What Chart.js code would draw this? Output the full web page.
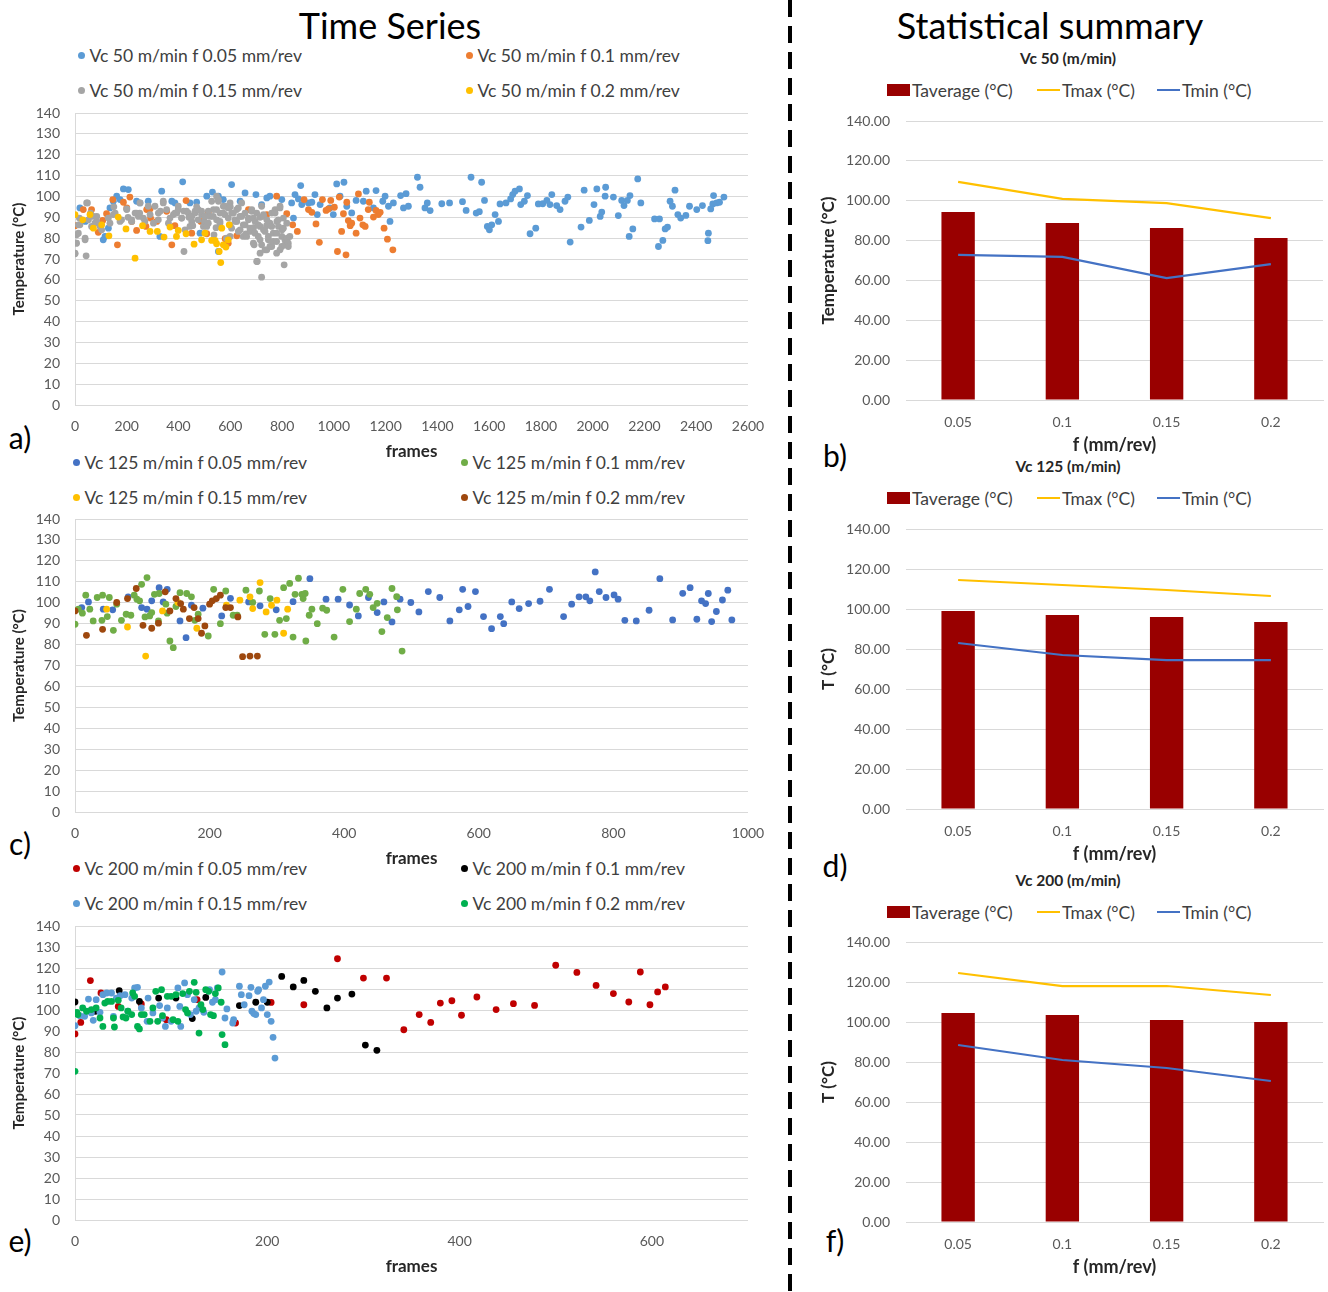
<!DOCTYPE html>
<html>
<head>
<meta charset="utf-8">
<script src="https://cdn.jsdelivr.net/npm/chart.js@4.4.1/dist/chart.umd.min.js"></script>
<style>
  body { margin: 0; background: #fff; font-family: Lato, 'Liberation Sans', sans-serif; }
  #page { position: relative; width: 1328px; height: 1292px; overflow: hidden; background: #fff; }
  canvas { position: absolute; }
  .c { position: absolute; transform: translate(-50%, -50%); white-space: nowrap; }
  .big { font-size: 36px; color: #000; }
  .tag { font-size: 30px; color: #000; }
  .ctitle { font-size: 15.5px; font-weight: bold; color: #262626; }
  .leg { position: absolute; height: 20px; display: flex; align-items: center; font-size: 17.5px; color: #404040; white-space: nowrap; }
  .dot { width: 7px; height: 7px; border-radius: 50%; margin-right: 5px; }
  .box { width: 23px; height: 12px; margin-right: 2px; }
  .ln { width: 23px; height: 2.5px; margin-right: 2px; }
  #dash { position: absolute; left: 788px; top: 0; width: 4px; height: 1292px;
          background: repeating-linear-gradient(to bottom, #000 0 17px, transparent 17px 26px); }
</style>
</head>
<body>
<div id="page">
  <div class="c big" style="left:390px;top:25px">Time Series</div>
  <div class="c big" style="left:1050px;top:25px">Statistical summary</div>
  <div id="dash"></div>

  <div class="c tag" style="left:20px;top:437px">a)</div>
  <div class="c tag" style="left:835px;top:455px">b)</div>
  <div class="c tag" style="left:20px;top:843px">c)</div>
  <div class="c tag" style="left:835px;top:865px">d)</div>
  <div class="c tag" style="left:20px;top:1240px">e)</div>
  <div class="c tag" style="left:835px;top:1240px">f)</div>

  <div id="legA"></div><div id="legC"></div><div id="legE"></div>
  <div id="legB"></div><div id="legD"></div><div id="legF"></div>

  <div class="c ctitle" style="left:1068px;top:58px">Vc 50 (m/min)</div>
  <div class="c ctitle" style="left:1068px;top:466px">Vc 125 (m/min)</div>
  <div class="c ctitle" style="left:1068px;top:880px">Vc 200 (m/min)</div>

  <canvas id="chA" width="770" height="360" style="left:0;top:105px"></canvas>
  <canvas id="chC" width="770" height="361" style="left:0;top:511px"></canvas>
  <canvas id="chE" width="770" height="362" style="left:0;top:918px"></canvas>
  <canvas id="chB" width="518" height="343" style="left:810px;top:113px"></canvas>
  <canvas id="chD" width="518" height="344" style="left:810px;top:521px"></canvas>
  <canvas id="chF" width="518" height="344" style="left:810px;top:934px"></canvas>
</div>

<script>
// ---- time series data: [frame, temperature °C] ----
const vc50_f005 = [[19,94.5],[40,88],[60,91],[109,79.2],[116,80.8],[129,84.8],[135,94.5],[148,97.7],[161,100.1],[174,98.5],[187,103.6],[206,103.3],[238,97.7],[251,96.9],[283,97.7],[328,80.8],[335,102.5],[374,97.7],[386,96.9],[416,107],[444,96.9],[470,97.2],[483,82.4],[509,100.1],[531,102.1],[554,100.1],[554,73.6],[573,98.5],[605,105.7],[638,97.7],[657,101.7],[699,100.9],[721,96.1],[741,99.3],[753,100.1],[799,98.5],[837,96.9],[844,89.6],[850,100.9],[863,98.8],[872,105.2],[876,96.1],[902,96.9],[915,97.2],[927,100.9],[936,91.3],[947,96.1],[985,94.5],[998,91.3],[1011,106],[1024,100.1],[1039,106.8],[1050,95.3],[1069,92.1],[1086,98.1],[1114,97.7],[1125,102.5],[1153,94.5],[1163,102.8],[1189,97.7],[1198,100.1],[1211,95.3],[1217,88],[1230,96.9],[1258,100.4],[1269,94.5],[1279,101.3],[1288,95.3],[1323,109.2],[1333,104.4],[1352,94.5],[1361,96.9],[1372,93.2],[1417,96.5],[1447,96.9],[1497,97.5],[1511,93.3],[1530,109.2],[1550,92],[1562,92.7],[1571,106.8],[1582,98.1],[1593,85.6],[1601,84],[1610,86.4],[1623,91.3],[1636,88],[1642,96.4],[1665,96.9],[1683,98.8],[1691,100.9],[1700,102.5],[1717,103.6],[1722,96.1],[1736,97.7],[1748,100.4],[1758,82.1],[1780,84.8],[1790,96.4],[1807,96.5],[1823,98.1],[1835,96.1],[1842,100.9],[1861,95.6],[1874,93.7],[1893,97.7],[1904,99.7],[1913,78.1],[1955,85.3],[1967,103],[1987,88.5],[2005,96.1],[2016,103.6],[2029,90.4],[2035,92.5],[2048,100.1],[2050,104.4],[2080,99.7],[2099,90.8],[2112,98.1],[2121,95.6],[2134,98.1],[2144,100.4],[2141,80.8],[2155,84.4],[2174,108.4],[2186,96.9],[2239,89.2],[2258,89.2],[2254,76],[2271,78.9],[2280,84.4],[2289,85.3],[2299,97.7],[2308,95.3],[2318,103],[2329,91.3],[2340,89.6],[2360,90.9],[2374,95.3],[2402,93.7],[2424,95.6],[2445,78.8],[2447,82.4],[2456,94],[2464,96.4],[2467,100.4],[2479,96.9],[2490,97.2],[2507,99.7]];
const vc50_f01 = [[0,86],[32,93.7],[64,93.7],[90,82.8],[107,88.5],[122,91.7],[146,98.5],[164,76.8],[187,97.2],[200,94.5],[212,99.7],[219,88],[238,83.7],[274,85.6],[277,93.7],[290,94],[292,89.6],[316,88],[354,92.9],[374,76.8],[386,86],[429,98],[451,82.4],[486,88],[509,82.1],[515,92.4],[580,79.7],[592,77.6],[625,81.1],[670,93.7],[741,91.3],[779,100.1],[818,91.7],[841,86.4],[859,83.2],[885,98.5],[902,93.7],[915,92.4],[931,86.8],[944,78],[956,98.5],[970,93.3],[979,94],[988,98.1],[1002,94.8],[1014,73.6],[1021,99.7],[1030,83.2],[1037,91.7],[1047,72],[1050,97.2],[1056,88.4],[1063,86],[1069,87.2],[1086,82.4],[1095,101.2],[1101,89.6],[1112,86.4],[1121,85.6],[1133,93.7],[1137,97.2],[1153,90.1],[1163,93.3],[1172,91.3],[1179,92.4],[1194,84.8],[1207,79.5],[1228,74.4]];
const vc50_f015 = [[0,72.5],[0,72.8],[4,77.6],[6,81.6],[6,77.6],[13,86.4],[13,82.4],[17,89.6],[19,86.4],[39,79.2],[39,80],[43,71.5],[45,96.9],[48,96.9],[52,88.8],[60,92],[64,85.6],[71,90.4],[77,87.2],[84,88],[84,90.4],[97,85.6],[103,84],[129,89.6],[135,87.2],[148,91.3],[150,95],[155,92],[174,88],[180,88.8],[200,94],[200,93.7],[205,90],[219,88.8],[219,88],[232,92],[238,92],[245,90.4],[250,92],[251,96.9],[264,89.6],[270,88],[283,95.3],[290,91.3],[303,87.2],[309,95.3],[322,88.8],[322,92],[330,93],[341,97.7],[341,96.9],[354,93.7],[361,87.2],[367,89.6],[380,91.3],[386,92],[393,92],[399,95.3],[399,93.7],[412,89.6],[412,89.6],[420,93],[421,73.6],[425,84],[431,92.9],[438,92],[440,90],[444,85.6],[451,88],[451,90.4],[455,86],[464,92],[464,92.9],[470,95],[476,93.7],[476,88.8],[489,91.3],[489,92.9],[496,85.6],[500,88],[502,90.4],[509,85.6],[515,93],[515,87.2],[522,90.4],[528,97.7],[534,90.4],[535,93.7],[537,81.6],[545,85],[547,88.8],[547,93.7],[547,100.1],[554,97.7],[554,98.5],[560,87.2],[560,92],[560,88],[573,92],[573,95.3],[579,91.3],[580,95.3],[585,80],[592,89.6],[592,94.5],[599,96.9],[599,86.4],[599,80.8],[600,95],[605,84.8],[605,92],[612,92],[618,88.8],[620,88],[625,88],[625,93.7],[631,94.5],[631,83.2],[637,90.4],[638,84],[644,90.4],[644,96.9],[650,80.8],[650,86.4],[657,86.4],[657,92],[660,82],[663,80.8],[670,89.6],[670,88.8],[676,83.2],[676,84.8],[683,92.9],[683,93.7],[689,77.6],[689,89.6],[690,85],[692,76.8],[695,82.4],[696,88],[702,68.8],[702,92],[704,68.8],[708,80.8],[708,86.4],[715,85.6],[715,90],[715,79.2],[715,72.8],[721,76.8],[721,61.3],[721,95.3],[728,91.3],[728,90.4],[728,84],[734,83.2],[734,74.4],[740,86],[741,74.4],[741,88.8],[747,79.2],[747,80.8],[753,87.2],[753,76],[760,76],[760,92],[760,85.6],[766,82.4],[766,78.4],[773,93.7],[773,92],[779,78.4],[779,82.4],[779,72.8],[780,88],[786,85.6],[786,88.8],[792,74.4],[792,94.5],[792,95.3],[799,80.8],[799,76],[800,84],[805,89.6],[805,84.8],[808,67.2],[811,76.8],[811,79.2],[818,79.2],[818,87.2],[820,80],[824,77.6],[824,76],[830,80.8]];
const vc50_f02 = [[0,91.3],[30,88.8],[58,91.3],[71,84.8],[103,86.4],[131,81.1],[167,90.1],[197,84.4],[232,70.4],[261,86],[290,83.2],[318,83.2],[344,80.5],[367,85.3],[392,80.8],[399,83.7],[429,82.1],[460,77.1],[489,79.2],[502,82.4],[528,78.9],[541,78.9],[547,77.3],[557,73.6],[563,68.3],[567,84.8],[573,76.8],[583,75.7],[592,79.2],[596,86.4]];

const vc125_f005 = [[10,97.7],[20,100.4],[42,96.9],[56,96.6],[79,102.8],[99,97.7],[107,96.9],[114,100.9],[125,107.2],[131,100.4],[137,106.4],[156,91.3],[165,83.3],[173,98.8],[190,97.4],[218,93.7],[231,102.1],[258,100.4],[275,98.5],[299,96.6],[324,100.5],[349,111.5],[373,101.7],[391,101.7],[408,98.9],[421,93.7],[436,102.5],[449,95.3],[459,100.4],[471,90.8],[483,101.7],[499,100.1],[511,95.6],[525,105.3],[542,102.5],[557,91.3],[571,96.6],[576,106.4],[584,98.2],[595,105.3],[607,93.4],[619,87.6],[632,93.4],[637,90],[649,100.4],[660,97.2],[674,99.6],[691,100.7],[705,106.4],[726,93.4],[738,99.3],[749,102.8],[759,102.8],[765,100.9],[773,114.7],[779,105.3],[789,102.5],[801,103.7],[807,101.7],[817,91.6],[834,91.3],[853,96.4],[869,111.5],[888,91.8],[903,104.5],[914,107.2],[924,92.1],[931,100.9],[937,99.6],[941,104.4],[946,91],[953,95.8],[962,101.3],[970,106],[976,91.8]];
const vc125_f01 = [[0,89.7],[5,96.9],[11,95],[16,103.6],[22,96.9],[27,91.3],[33,102.5],[40,91.6],[41,103.6],[48,93.4],[51,102.5],[57,86.8],[62,99.3],[69,91.6],[76,94.5],[83,94],[88,103.6],[92,101.7],[96,100.9],[99,108.8],[104,93.2],[107,112],[111,93.7],[114,95.3],[118,104],[124,91.3],[125,104.4],[135,99.3],[137,95],[141,81.7],[146,78.5],[150,98.2],[156,104.8],[166,104.4],[173,102.8],[178,91.6],[183,94.5],[198,84.1],[206,106.4],[216,90],[224,105.6],[235,94],[241,94],[254,106],[264,100.1],[274,105.6],[282,84.9],[290,102],[297,84.9],[304,91.6],[310,107.2],[314,92.4],[319,109.2],[324,83.6],[327,104],[332,111.7],[337,104],[339,102],[342,104.4],[343,81.7],[348,94],[352,96.9],[360,90],[368,97.4],[374,96.4],[385,83.6],[398,106.4],[408,91],[418,96.9],[423,104.4],[432,106.4],[438,104],[443,97.7],[449,99.7],[456,86.2],[464,92.9],[471,106.8],[478,102.9],[479,96.6],[486,76.9]];
const vc125_f015 = [[47,96.9],[78,88.4],[105,74.5],[130,96.1],[153,100.1],[181,87.8],[225,98.8],[245,101.2],[260,102.8],[264,97.2],[275,109.6],[284,95.6],[292,98.8],[300,101.2],[310,85.4],[316,96.9]];
const vc125_f02 = [[0,96.1],[17,84.4],[41,87.3],[62,100.1],[78,102],[91,106.8],[101,89.2],[114,87.8],[124,90.2],[134,105.2],[141,96.1],[150,102],[157,99.6],[161,96.9],[170,92.4],[177,97.7],[183,92.4],[188,85.4],[193,88.9],[200,99.3],[204,100.9],[210,102],[216,103.6],[224,97.7],[231,97.7],[242,93.2],[249,74.2],[260,74.5],[271,74.5]];

const vc200_f005 = [[0,88.6],[6,94.1],[16,114],[27,108.1],[45,101.7],[69,102.9],[95,95.4],[127,104.9],[167,93.8],[204,103.6],[238,102.5],[273,124.4],[300,115.2],[324,115.2],[342,90.6],[358,97.8],[370,94.1],[380,103.3],[392,104.4],[402,97.5],[418,106.2],[438,100.2],[456,103],[478,102.2],[500,121.3],[522,117.9],[542,111.7],[560,107.8],[576,103.8],[588,118.1],[598,102.5],[606,108.6],[614,111]];
const vc200_f01 = [[0,103.8],[21,99.4],[46,109.2],[67,104.1],[87,105.7],[105,105.7],[122,95.9],[136,106],[171,102.1],[188,103.7],[200,103.7],[215,116],[227,111],[238,114.1],[250,108.9],[262,101],[273,105.7],[288,107.6],[302,83.3],[314,80.8]];
const vc200_f015 = [[0,92.5],[5,97.3],[10,97],[14,105.2],[17,98.6],[19,95.1],[22,104.9],[26,98.9],[29,107.3],[33,108.1],[38,108.1],[40,97],[43,105.7],[47,106.8],[52,107.3],[55,99.4],[59,105.7],[62,110.5],[65,110.8],[69,101],[75,94.6],[76,105.7],[81,98.6],[88,102.1],[91,96.2],[94,92.2],[96,101],[100,94.6],[107,110.5],[109,101.7],[110,92.2],[114,112.9],[117,107.3],[120,97.8],[124,104.9],[126,99.4],[129,101],[134,98.9],[140,109.7],[143,103.7],[146,104.9],[148,110.5],[153,118.1],[156,96.2],[158,100.5],[164,93.8],[165,95.4],[171,111.3],[173,107.3],[176,102.5],[181,106.8],[183,110.8],[184,99.4],[186,98.3],[188,97.8],[190,108.9],[191,109.7],[194,101],[196,104.9],[198,111.3],[200,97.8],[202,113.3],[204,94.6],[206,87],[208,77.1]];
const vc200_f02 = [[0,70.8],[2,98.9],[3,97.8],[8,101],[12,99.4],[17,100.2],[22,101],[26,96.2],[29,92.2],[31,103.3],[34,104.1],[38,104.1],[40,96.2],[41,91.9],[45,104.6],[48,101],[50,96.7],[53,96.2],[55,99.4],[59,97.8],[60,108.1],[62,106.5],[65,92.2],[67,91],[69,97.8],[72,97.8],[78,94.6],[81,101],[84,108.9],[86,94.6],[90,109.7],[91,97.3],[96,106.5],[100,106.5],[102,95.4],[105,107.3],[107,94.6],[112,107.8],[115,100.2],[117,98.6],[119,108.9],[124,113.2],[126,108.4],[129,89],[131,102.5],[133,100.2],[136,109.7],[139,108.9],[141,97.8],[144,97.3],[146,107.8],[149,110.5],[152,103.7],[153,88.3],[156,83.5]];

// ---- statistical summary data ----
const feeds = ['0.05', '0.1', '0.15', '0.2'];
const tavg50  = [94.3, 88.8, 86.3, 81.3];
const tmax50  = [109.4, 100.9, 98.8, 91.3];
const tmin50  = [72.8, 71.8, 61.2, 68.2];
const tavg125 = [99, 97, 96, 93.5];
const tmax125 = [114.5, 112, 109.5, 106.5];
const tmin125 = [83, 77, 74.5, 74.5];
const tavg200 = [104.5, 103.5, 101, 100];
const tmax200 = [124.5, 118, 118, 113.5];
const tmin200 = [88.5, 81, 77, 70.5];

const LABEL_COL = '#595959';
const GRID_COL = '#D9D9D9';
Chart.defaults.font.family = "Lato, 'Liberation Sans', sans-serif";

function legendLeft(el, items, rows, cols) {
  const host = document.getElementById(el);
  items.forEach((it, i) => {
    const d = document.createElement('div');
    d.className = 'leg';
    d.style.left = (cols[i % 2] - 3.5) + 'px';
    d.style.top = (rows[Math.floor(i / 2)] - 10) + 'px';
    d.innerHTML = `<span class="dot" style="background:${it[1]}"></span>${it[0]}`;
    host.appendChild(d);
  });
}

function legendRight(el, y) {
  const host = document.getElementById(el);
  const items = [
    [887, 'box', '#990000', 'Taverage (°C)'],
    [1037, 'ln', '#FFC000', 'Tmax (°C)'],
    [1157, 'ln', '#4472C4', 'Tmin (°C)'],
  ];
  items.forEach(it => {
    const d = document.createElement('div');
    d.className = 'leg';
    d.style.left = it[0] + 'px';
    d.style.top = (y - 10) + 'px';
    d.innerHTML = `<span class="${it[1]}" style="background:${it[2]}"></span>${it[3]}`;
    host.appendChild(d);
  });
}

// keep the plot area where the layout padding puts it (tick padding would add to it)
function fixX(h) { return s => { s.height = h; s.paddingLeft = 0; s.paddingRight = 0; }; }
function fixY(w) { return s => { s.width = w; s.paddingTop = 0; s.paddingBottom = 0; }; }

function scatterChart(id, series, colors, xMax, xStep) {
  return new Chart(document.getElementById(id), {
    type: 'scatter',
    data: {
      datasets: series.map((s, i) => ({
        data: s.map(p => ({ x: p[0], y: p[1] })),
        backgroundColor: colors[i],
        borderWidth: 0,
        pointRadius: 3.4,
        order: series.length - i,
      })),
    },
    options: {
      responsive: false, animation: false, events: [],
      layout: { padding: { top: 8, right: 22, left: 0, bottom: 0 } },
      plugins: { legend: { display: false }, tooltip: { enabled: false } },
      scales: {
        x: {
          type: 'linear', min: 0, max: xMax,
          ticks: { stepSize: xStep, includeBounds: false, autoSkip: false, padding: 13, color: LABEL_COL, font: { size: 14 }, callback: v => String(v) },
          grid: { display: false, drawTicks: false },
          border: { display: false },
          title: { display: true, text: 'frames', color: '#262626', font: { size: 17, weight: 'bold' }, padding: { top: 0, bottom: 3 } },
          afterFit: fixX(60),
        },
        y: {
          min: 0, max: 140,
          ticks: { stepSize: 10, autoSkip: false, padding: 15, color: LABEL_COL, font: { size: 14 } },
          grid: { color: GRID_COL, drawTicks: false },
          border: { color: GRID_COL },
          title: { display: true, text: 'Temperature (°C)', color: '#262626', font: { size: 15, weight: 'bold' }, padding: { top: 10, bottom: 0 } },
          afterFit: fixY(75),
        },
      },
    },
  });
}

function summaryChart(id, avg, max, min, yTitle) {
  return new Chart(document.getElementById(id), {
    data: {
      labels: feeds,
      datasets: [
        { type: 'line', data: max, borderColor: '#FFC000', borderWidth: 2.25, pointRadius: 0, order: 1 },
        { type: 'line', data: min, borderColor: '#4472C4', borderWidth: 2.25, pointRadius: 0, order: 0 },
        { type: 'bar', data: avg, backgroundColor: '#990000', categoryPercentage: 1, barPercentage: 0.32, order: 2 },
      ],
    },
    options: {
      responsive: false, animation: false, events: [],
      layout: { padding: { top: 8, right: 5, left: 0, bottom: 0 } },
      plugins: { legend: { display: false }, tooltip: { enabled: false } },
      scales: {
        x: {
          ticks: { padding: 14, color: LABEL_COL, font: { size: 14 } },
          grid: { display: false, drawTicks: false },
          border: { color: GRID_COL },
          title: { display: true, text: 'f (mm/rev)', color: '#262626', font: { size: 18, weight: 'bold' }, padding: { top: 0, bottom: 0 } },
          afterFit: fixX(56),
        },
        y: {
          min: 0, max: 140,
          ticks: { stepSize: 20, autoSkip: false, padding: 16, color: LABEL_COL, font: { size: 14 }, callback: v => v.toFixed(2) },
          grid: { color: GRID_COL, drawTicks: false },
          border: { display: false },
          title: { display: true, text: yTitle, color: '#262626', font: { size: 17, weight: 'bold' }, padding: { top: 8, bottom: 0 } },
          afterFit: fixY(96),
        },
      },
    },
  });
}

// legends
legendLeft('legA', [
  ['Vc 50 m/min f 0.05 mm/rev', '#5B9BD5'], ['Vc 50 m/min f 0.1 mm/rev', '#ED7D31'],
  ['Vc 50 m/min f 0.15 mm/rev', '#A5A5A5'], ['Vc 50 m/min f 0.2 mm/rev', '#FFC000'],
], [55, 90], [81, 469]);
legendLeft('legC', [
  ['Vc 125 m/min f 0.05 mm/rev', '#4472C4'], ['Vc 125 m/min f 0.1 mm/rev', '#70AD47'],
  ['Vc 125 m/min f 0.15 mm/rev', '#FFC000'], ['Vc 125 m/min f 0.2 mm/rev', '#9E480E'],
], [462, 497], [76, 464]);
legendLeft('legE', [
  ['Vc 200 m/min f 0.05 mm/rev', '#C00000'], ['Vc 200 m/min f 0.1 mm/rev', '#000000'],
  ['Vc 200 m/min f 0.15 mm/rev', '#5B9BD5'], ['Vc 200 m/min f 0.2 mm/rev', '#00B050'],
], [868, 903], [76, 464]);
legendRight('legB', 90);
legendRight('legD', 498);
legendRight('legF', 912);

// charts
scatterChart('chA', [vc50_f005, vc50_f01, vc50_f015, vc50_f02], ['#5B9BD5', '#ED7D31', '#A5A5A5', '#FFC000'], 2600, 200);
scatterChart('chC', [vc125_f005, vc125_f01, vc125_f015, vc125_f02], ['#4472C4', '#70AD47', '#FFC000', '#9E480E'], 1000, 200);
scatterChart('chE', [vc200_f005, vc200_f01, vc200_f015, vc200_f02], ['#C00000', '#000000', '#5B9BD5', '#00B050'], 700, 200);
summaryChart('chB', tavg50, tmax50, tmin50, 'Temperature (°C)');
summaryChart('chD', tavg125, tmax125, tmin125, 'T (°C)');
summaryChart('chF', tavg200, tmax200, tmin200, 'T (°C)');
</script>
</body>
</html>
